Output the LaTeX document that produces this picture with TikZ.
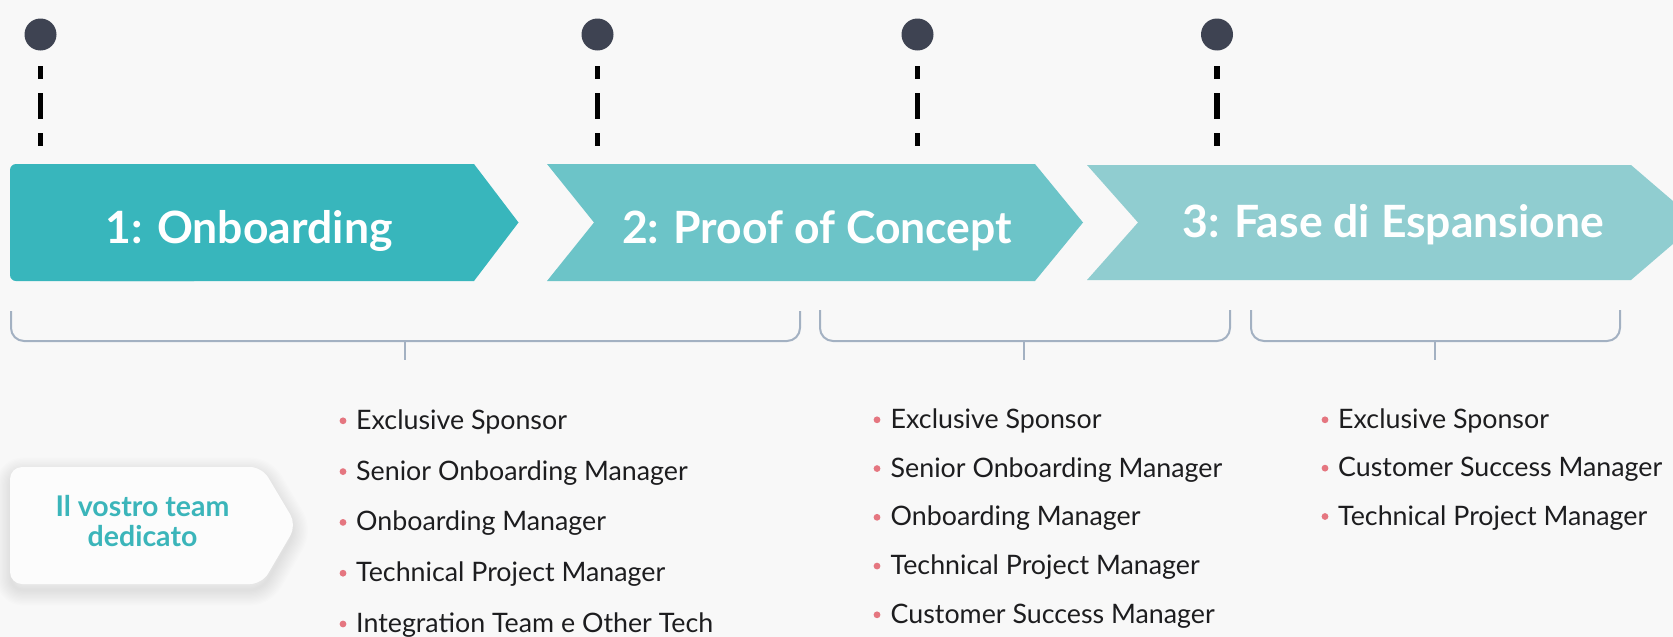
\documentclass[tikz,border=0pt]{standalone}
\usepackage{fontspec}
\setmainfont{Lato}
\definecolor{bg}{HTML}{F8F8F8}
\definecolor{cA}{HTML}{38B6BC}
\definecolor{cB}{HTML}{6CC4C8}
\definecolor{cC}{HTML}{90CDD0}
\definecolor{dotc}{HTML}{3E4352}
\definecolor{bracec}{HTML}{A3B1C2}
\definecolor{bulc}{HTML}{E57680}
\definecolor{txt}{HTML}{1D1D1F}
\definecolor{teamc}{HTML}{3BB5BA}
\definecolor{boxc}{HTML}{FCFCFC}
\tikzset{
  pin/.style={circle, fill=dotc, minimum size=32pt, inner sep=0pt},
  dashline/.style={black, line width=5.5pt, dash pattern=on 26pt off 14pt, dash phase=13pt},
  phase/.style={text=white, font=\fontsize{44.5}{52}\selectfont\bfseries, anchor=base},
  bracel/.style={draw=bracec, line width=2pt, rounded corners=13pt},
  item/.style={anchor=base west, text=txt, font=\fontsize{26.8}{30}\selectfont, inner sep=0pt},
  bul/.style={fill=bulc},
  team/.style={text=teamc, font=\fontsize{28.5}{32}\selectfont\bfseries, anchor=base, inner sep=0pt}
}
\begin{document}
\begin{tikzpicture}[x=1pt,y=-1pt]
\fill[bg] (0,0) rectangle (1673,637);
\useasboundingbox (0,0) rectangle (1673,637);
\clip (0,0) rectangle (1673,637);

% pins and dashed drops
\foreach \n/\x in {1/40.5,2/597.5,3/917.5,4/1217} {
  \node[pin] (p\n) at (\x,34.5) {};
  \coordinate (s\n) at (\x,66);
  \coordinate (e\n) at (\x,146);
  \draw[dashline] (s\n) -- (e\n);
}

% chevrons
\fill[cA, rounded corners=6pt] (10,164) rectangle (200,281);
\fill[cA] (100,164) -- (474,164) -- (518.5,222.5) -- (474,281) -- (100,281) -- cycle;
\fill[cB] (547,164) -- (1035,164) -- (1083,222.5) -- (1035,281) -- (547,281) -- (594,222.5) -- cycle;
\fill[cC] (1087,165) -- (1631,165) -- (1698,222.5) -- (1631,280) -- (1087,280) -- (1138,222.5) -- cycle;

\node[phase] (ph1) at (249,243.3) {1: Onboarding};
\node[phase] (ph2) at (817,243.3) {2: Proof of Concept};
\node[phase] (ph3) at (1393.5,237.3) {3: Fase di Espansione};

% braces
\draw[bracel] (11,311) -- (11,341) -- (800,341) -- (800,311);
\draw[bracel] (820,310) -- (820,341) -- (1230,341) -- (1230,310);
\draw[bracel] (1251,310) -- (1251,341) -- (1620,341) -- (1620,310);
\draw[draw=bracec, line width=2pt] (405,341) -- (405,360);
\draw[draw=bracec, line width=2pt] (1024,341) -- (1024,360);
\draw[draw=bracec, line width=2pt] (1435,341) -- (1435,360);

% team box with soft shadow
\foreach \i in {1,...,12} {
  \draw[black, opacity=0.008, line width=\i*2.6pt, rounded corners=12pt, line join=round]
    (11,473) -- (262,473) -- (296,530) -- (262,590) -- (11,590) -- cycle;
}
\fill[boxc, rounded corners=12pt] (10,467) -- (262,467) -- (296.5,525) -- (262,584) -- (10,584) -- cycle;
\node[team] (t1) at (142.5,516.7) {Il vostro team};
\node[team] (t2) at (142.5,546) {dedicato};

% lists
\foreach \t [count=\k] in {Exclusive Sponsor, Senior Onboarding Manager, Onboarding Manager, Technical Project Manager, Integration Team e Other Tech} {
  \pgfmathsetmacro{\yy}{429.3 + (\k-1)*50.8}
  \fill[bul] (343,\yy-8.5) circle (3.4pt);
  \node[item] (a\k) at (356,\yy) {\t};
}
\foreach \t [count=\k] in {Exclusive Sponsor, Senior Onboarding Manager, Onboarding Manager, Technical Project Manager, Customer Success Manager} {
  \pgfmathsetmacro{\yy}{428.3 + (\k-1)*48.75}
  \fill[bul] (877,\yy-8.5) circle (3.4pt);
  \node[item] (b\k) at (890.5,\yy) {\t};
}
\foreach \t [count=\k] in {Exclusive Sponsor, Customer Success Manager, Technical Project Manager} {
  \pgfmathsetmacro{\yy}{428.3 + (\k-1)*48.35}
  \fill[bul] (1325,\yy-8.5) circle (3.4pt);
  \node[item] (c\k) at (1338,\yy) {\t};
}
\end{tikzpicture}
\end{document}
